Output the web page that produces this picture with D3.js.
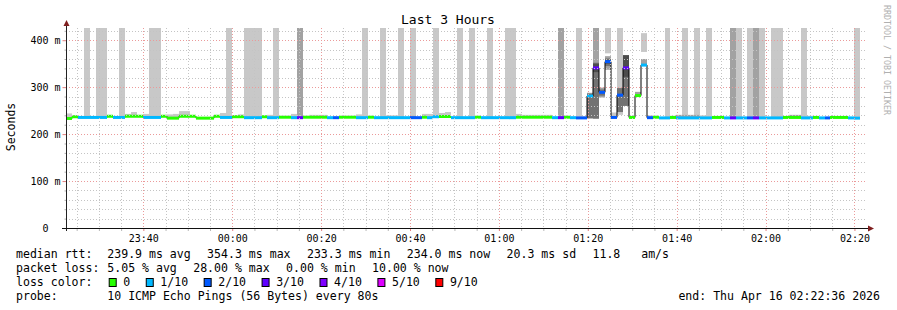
<!DOCTYPE html>
<html>
<head>
<meta charset="utf-8">
<script src="https://cdn.jsdelivr.net/npm/d3@7"></script>
<style>
  body { margin: 0; background: #fff; }
  text { font-family: "DejaVu Sans Mono", monospace; white-space: pre; }
</style>
</head>
<body>
<div id="chart"></div>
<script>
// ---- data (one entry per 80s step) ----
const title = "Last 3 Hours";
const endLabel = "end: Thu Apr 16 02:22:36 2026";
const stepSeconds = 80;

// median rtt in ms per step (null = no data yet)
const median = [
  233.3, 237, 235.5, 235.5, 235.5, 235.5, 235.5, 238, 235.5, 235.5,
  238, 238, 238, 235.5, 235.5, 235.5, 238, 234, 234, 238,
  238, 238, 234, 234, 234, 238, 235.5, 235.5, 237, 237,
  235, 235, 235, 237, 235, 235, 236, 236, 235, 235,
  236, 236, 236, 236, 235, 235, 236, 236, 236, 235,
  235, 236, 235, 235, 235, 235, 235, 235, 235, 235,
  236, 235, 237, 237.5, 237.5, 235, 235, 235, 235, 236,
  235, 235, 235, 235, 235, 235, 236, 236, 236, 236,
  236, 236, 235, 235, 236, 235, 234.5, 234.5, 281, 341,
  289, 354.3, 235.5, 283, 341, 235.5, 282, 347, 235, 236,
  234.5, 234.5, 235.5, 234.5, 234.5, 234.5, 234.5, 234.5, 234.5, 235.5,
  235.5, 234.5, 234.5, 234.5, 234.5, 234.5, 234.5, 234.5, 234.5, 234.5,
  234.5, 235.5, 235.5, 235.5, 234.5, 234.5, 235.5, 234.5, 234.5, 235.5,
  235.5, 235.5, 234.5, 234.0, null
];

// lost pings out of 10 per step
const loss = [
  0,0,1,1,1,1,1,0,1,1,
  0,0,0,1,1,1,0,0,0,0,
  0,0,0,0,0,0,1,1,0,0,
  1,1,1,0,1,1,0,0,1,3,
  0,0,0,0,1,2,0,0,0,1,
  1,0,1,1,1,1,1,1,2,2,
  0,1,1,0,0,1,1,1,1,0,
  1,1,1,1,1,1,0,0,0,0,
  0,0,1,3,0,1,2,2,1,3,
  2,2,2,2,3,0,0,1,2,0,
  1,1,0,1,1,1,1,1,1,0,
  0,1,3,1,1,2,3,1,1,1,
  1,0,0,0,1,1,0,1,2,0,
  0,0,1,1,null
];

// smoke bands: [step, low ms, high ms]
const smokeLight = [
  [0,233,244],[1,236,239],[3,235,430],[5,235,430],[6,235,430],[9,235,430],[10,237,243],[11,237,247],
  [13,235,243],[14,235,430],[15,235,430],[17,233,242],[18,233,243],[19,237,249],[20,237,249],
  [26,235,245],[27,235,430],[28,236,240],[29,236,242],[30,235,430],[31,235,430],[32,235,430],
  [34,234,241],[35,235,430],[38,234,243],[41,235,241],[42,235,241],[43,235,241],[49,234,242],
  [50,235,430],[53,235,430],[54,234,240],[55,234,240],[56,235,430],[58,235,430],[60,235,243],
  [61,234,243],[62,236,430],[63,236,245],[64,236,247],[66,235,430],[68,235,430],[71,235,430],
  [74,235,430],[75,235,430],[76,235,243],[77,235,241],[78,235,241],[79,235,241],[80,235,241],[81,235,241],
  [86,234,430],[87,234,238],[91,372,430],[92,235,246],[93,241,430],[97,375,415],[98,234,240],
  [101,234,430],[102,235,239],[104,234,430],[106,234,430],[107,234,240],[108,234,430],[113,234,430],
  [115,234,430],[117,234,430],[119,234,430],[120,234,430],[124,234,430],[125,234,239],[133,234,430]
];
const smokeGrey = [
  [39,235,430],[58,234,239],[83,235,430],[88,233,288],[89,233,430],[90,278,299],[91,337,366],
  [96,281,290],[97,345,360],[103,234,241],[104,234,241],[105,234,241],[106,234,241],
  [112,235,430],[116,235,430],[122,235,241],[123,235,241]
];
const smokeDark = [[88,234,286],[89,233,352],[90,282,295],[91,345,361],[93,247,298],[94,260,368]];
const smokeCore = [[89,332,350],[91,350,358],[94,322,368]];

const yMajor = [0, 100, 200, 300, 400];
const yMinor = [20, 40, 60, 80, 120, 140, 160, 180, 220, 240, 260, 280, 320, 340, 360, 380, 420];

const rttLabel = "median rtt:";
const rttStats = ["239.9 ms avg", "354.3 ms max", "233.3 ms min", "234.0 ms now", "20.3 ms sd", "11.8   am/s"];
const lossLabel = "packet loss:";
const lossStats = ["5.05 % avg", "28.00 % max", "0.00 % min", "10.00 % now"];
const lossColorLabel = "loss color:";
const lossLevels = [0, 1, 2, 3, 4, 5, 9];
const lossLevelLabels = ["0", "1/10", "2/10", "3/10", "4/10", "5/10", "9/10"];
const probeLabel = "probe:";
const probeText = "10 ICMP Echo Pings (56 Bytes) every 80s";

// ---- drawing ----
const W = 897, H = 310;
const lossColor = {0: "#26ff00", 1: "#00b8ff", 2: "#0059ff", 3: "#5e00ff", 4: "#7e00ff", 5: "#dd00ff", 9: "#ff0000"};

const endTime = new Date(2026, 3, 16, 2, 22, 36);
const startTime = new Date(+endTime - 3 * 3600 * 1000);
const stepTime = i => new Date(+startTime + i * stepSeconds * 1000);

const x = d3.scaleTime().domain([startTime, endTime]).range([66, 866]);
const y = d3.scaleLinear().domain([0, 426]).range([228, 28]);
const px = i => Math.round(x(stepTime(i)));

const svg = d3.select("#chart").append("svg")
  .attr("width", W).attr("height", H);

svg.append("rect").attr("width", W).attr("height", H).attr("fill", "#fff");

svg.append("clipPath").attr("id", "plotclip")
  .append("rect").attr("x", 66).attr("y", 28).attr("width", 800).attr("height", 200);

const plot = svg.append("g").attr("clip-path", "url(#plotclip)");

function drawSmoke(list, fill) {
  plot.append("g").attr("fill", fill)
    .selectAll("rect").data(list).join("rect")
    .attr("x", d => px(d[0]))
    .attr("width", d => px(d[0] + 1) - px(d[0]))
    .attr("y", d => y(d[2]))
    .attr("height", d => y(d[1]) - y(d[2]));
}
drawSmoke(smokeLight, "#c8c8c8");
drawSmoke(smokeGrey, "#a2a2a2");
drawSmoke(smokeDark, "#727272");
drawSmoke(smokeCore, "#4c4c4c");

// grid
const grid = svg.append("g").attr("shape-rendering", "crispEdges").attr("stroke-dasharray", "1,2");
grid.selectAll(".hmin").data(yMinor).join("line")
  .attr("x1", 66).attr("x2", 866)
  .attr("y1", d => Math.round(y(d)) + 0.5).attr("y2", d => Math.round(y(d)) + 0.5)
  .attr("stroke", "#c4c4c4");
grid.selectAll(".hmaj").data(yMajor.slice(1)).join("line")
  .attr("x1", 66).attr("x2", 866)
  .attr("y1", d => Math.round(y(d)) + 0.5).attr("y2", d => Math.round(y(d)) + 0.5)
  .attr("stroke", "#eb9a9a");
const minorTimes = d3.timeMinute.every(5).range(startTime, endTime).filter(d => d.getMinutes() % 20 !== 0);
const majorTimes = d3.timeMinute.every(20).range(startTime, endTime);
grid.selectAll(".vmin").data(minorTimes).join("line")
  .attr("x1", d => Math.round(x(d)) + 0.5).attr("x2", d => Math.round(x(d)) + 0.5)
  .attr("y1", 28).attr("y2", 228)
  .attr("stroke", "#c4c4c4");
grid.selectAll(".vmaj").data(majorTimes).join("line")
  .attr("x1", d => Math.round(x(d)) + 0.5).attr("x2", d => Math.round(x(d)) + 0.5)
  .attr("y1", 28).attr("y2", 228)
  .attr("stroke", "#eb9a9a");

// median step line and loss coloured bars
const steps = median.map((m, i) => ({i, m, l: loss[i]})).filter(d => d.m != null);
const linePts = steps.map(d => [px(d.i), y(d.m)]);
const last = steps[steps.length - 1];
linePts.push([px(last.i + 1), y(last.m)]);
plot.append("path")
  .attr("d", d3.line().curve(d3.curveStepAfter)(linePts))
  .attr("fill", "none").attr("stroke", "#000").attr("stroke-width", 1);

plot.append("g").selectAll("line").data(steps).join("line")
  .attr("x1", d => px(d.i)).attr("x2", d => px(d.i + 1))
  .attr("y1", d => y(d.m)).attr("y2", d => y(d.m))
  .attr("stroke", d => lossColor[d.l]).attr("stroke-width", 3);

// axes
const yAxis = svg.append("g").attr("transform", "translate(66.5,0)")
  .call(d3.axisLeft(y).tickValues(yMajor).tickSize(4).tickPadding(2)
    .tickFormat(d => d === 0 ? "0  " : d3.format("d")(d) + " m"));
yAxis.select(".domain").remove();
yAxis.selectAll(".tick line").attr("stroke", "#e08080");
yAxis.selectAll("text").attr("font-size", 10).attr("font-family", '"DejaVu Sans Mono", monospace').attr("fill", "#000");
const yAxisMinor = svg.append("g").attr("transform", "translate(66.5,0)")
  .call(d3.axisLeft(y).tickValues(yMinor).tickSize(2).tickFormat(""));
yAxisMinor.select(".domain").remove();
yAxisMinor.selectAll(".tick line").attr("stroke", "#b0b0b0");

const xAxisMinor = svg.append("g").attr("transform", "translate(0,228)")
  .call(d3.axisBottom(x).tickValues(minorTimes).tickSize(3).tickFormat(""));
xAxisMinor.select(".domain").remove();
xAxisMinor.selectAll(".tick line").attr("stroke", "#b8b8b8");
const xAxis = svg.append("g").attr("transform", "translate(0,228)")
  .call(d3.axisBottom(x).ticks(d3.timeMinute.every(20)).tickSize(3).tickPadding(4)
    .tickFormat(d3.timeFormat("%H:%M")));
xAxis.select(".domain").remove();
xAxis.selectAll(".tick line").attr("stroke", "#e08080");
xAxis.selectAll("text").attr("font-size", 10).attr("font-family", '"DejaVu Sans Mono", monospace').attr("fill", "#000");

svg.append("line").attr("x1", 66.5).attr("x2", 66.5).attr("y1", 231).attr("y2", 25)
  .attr("stroke", "#222").attr("shape-rendering", "crispEdges");
svg.append("line").attr("x1", 62).attr("x2", 869).attr("y1", 228.5).attr("y2", 228.5)
  .attr("stroke", "#111").attr("shape-rendering", "crispEdges");
svg.append("path").attr("d", "M63.5,26L69.5,26L66.5,20Z").attr("fill", "#7f1f1f");
svg.append("path").attr("d", "M868,225.5L868,231.5L874,228.5Z").attr("fill", "#7f1f1f");

// titles
svg.append("text").attr("x", 448).attr("y", 24).attr("text-anchor", "middle")
  .attr("font-size", 13).text(title);
svg.append("text").attr("transform", "translate(15,127) rotate(-90)").attr("text-anchor", "middle")
  .attr("font-size", 11.5).text("Seconds");
svg.append("text").attr("transform", "translate(884,5) rotate(90)")
  .attr("font-size", 8.3).attr("fill", "#b0b0b0").text("RRDTOOL / TOBI OETIKER");

// legend
const legendFont = 11.56;
const gap = 16.4;
function legendRow(label, items, baseline, firstX) {
  svg.append("text").attr("x", 16).attr("y", baseline).attr("font-size", legendFont).text(label);
  let cx = firstX;
  items.forEach(s => {
    const t = svg.append("text").attr("x", cx).attr("y", baseline).attr("font-size", legendFont).text(s);
    cx += t.node().getComputedTextLength() + gap;
  });
}
legendRow(rttLabel, rttStats, 258, 107.3);
legendRow(lossLabel, lossStats, 272, 107.3);

svg.append("text").attr("x", 16).attr("y", 286).attr("font-size", legendFont).text(lossColorLabel);
let bx = 108.7;
lossLevels.forEach((lv, k) => {
  svg.append("rect").attr("x", bx + 0.5).attr("y", 278.5).attr("width", 7).attr("height", 8)
    .attr("fill", lossColor[lv]).attr("stroke", "#000").attr("stroke-width", 1);
  const t = svg.append("text").attr("x", bx + 14.6).attr("y", 286).attr("font-size", legendFont)
    .text(lossLevelLabels[k]);
  bx += 14.6 + t.node().getComputedTextLength() + 15.5;
});

svg.append("text").attr("x", 16).attr("y", 300).attr("font-size", legendFont).text(probeLabel);
svg.append("text").attr("x", 107.3).attr("y", 300).attr("font-size", legendFont).text(probeText);
svg.append("text").attr("x", 880).attr("y", 300).attr("text-anchor", "end")
  .attr("font-size", legendFont).text(endLabel);
</script>
</body>
</html>
